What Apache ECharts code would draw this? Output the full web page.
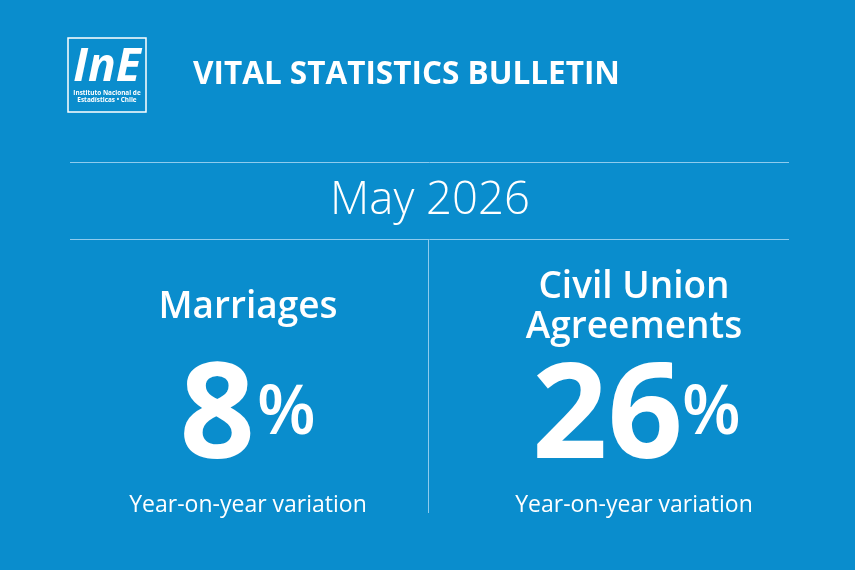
<!DOCTYPE html>
<html>
<head>
<meta charset="utf-8">
<script src="https://cdn.jsdelivr.net/npm/echarts@6/dist/echarts.min.js"></script>
<style>
html,body{margin:0;padding:0;background:#0a8dcd;}
#c{width:855px;height:570px;}
</style>
</head>
<body>
<div id="c"></div>
<script>
const title = 'VITAL STATISTICS BULLETIN';
const period = 'May 2026';
const categories = ['Marriages', 'Civil Union\nAgreements'];
const values = [8, 26];
const unit = '%';
const subtitle = 'Year-on-year variation';
const logoLines = ['Instituto Nacional de', 'Estadísticas • Chile'];

const chart = echarts.init(document.getElementById('c'));
const F = '"Open Sans", sans-serif';
const W = '#ffffff';
const BG = '#0a8dcd';
const lineColor = '#8ecbee';

const colX = [248, 634];
const numRight = [255, 683];
const unitGap = [2, -1];

const elements = [];
elements.push({type:'rect', shape:{x:0,y:0,width:855,height:570}, style:{fill:BG}, silent:true, z:0});
// logo
elements.push({type:'rect', shape:{x:68,y:38,width:78,height:74}, style:{fill:'none', stroke:W, lineWidth:1.5}, z:1});
elements.push({type:'text', x:107, y:68, style:{text:'InE', fill:W, font:'italic 700 46px "Open Sans", sans-serif', textAlign:'center', textVerticalAlign:'middle'}, z:2});
elements.push({type:'text', x:107, y:93, style:{text:logoLines[0], fill:W, font:'700 6.4px "Open Sans", sans-serif', textAlign:'center', textVerticalAlign:'middle'}, z:2});
elements.push({type:'text', x:107, y:100, style:{text:logoLines[1], fill:W, font:'700 6.4px "Open Sans", sans-serif', textAlign:'center', textVerticalAlign:'middle'}, z:2});
// title
elements.push({type:'text', x:406.5, y:75, style:{text:title, fill:W, font:'700 31.5px '+F, textAlign:'center', textVerticalAlign:'middle'}, z:2});
// separators
elements.push({type:'line', shape:{x1:70,y1:162.5,x2:789,y2:162.5}, style:{stroke:lineColor, lineWidth:1}, z:1});
elements.push({type:'line', shape:{x1:70,y1:239.5,x2:789,y2:239.5}, style:{stroke:lineColor, lineWidth:1}, z:1});
elements.push({type:'line', shape:{x1:428.5,y1:240,x2:428.5,y2:513}, style:{stroke:lineColor, lineWidth:1}, z:1});
// period
elements.push({type:'text', x:430, y:201, style:{text:period, fill:W, font:'300 45.5px '+F, textAlign:'center', textVerticalAlign:'middle'}, z:2});

categories.forEach((cat, i) => {
  const lines = cat.split('\n');
  const cy = lines.length === 1 ? 307 : 287;
  lines.forEach((ln, j) => {
    elements.push({type:'text', x:colX[i], y:cy + j*40, style:{text:ln, fill:W, font:'600 37px '+F, textAlign:'center', textVerticalAlign:'middle'}, z:2});
  });
  elements.push({type:'text', x:numRight[i], y:420, style:{text:String(values[i]), fill:W, font:'700 132px '+F, textAlign:'right', textVerticalAlign:'middle'}, z:2});
  elements.push({type:'text', x:numRight[i]+unitGap[i], y:415, style:{text:unit, fill:W, font:'600 68px '+F, textAlign:'left', textVerticalAlign:'middle'}, z:2});
  elements.push({type:'text', x:colX[i], y:505, style:{text:subtitle, fill:W, font:'400 23px '+F, textAlign:'center', textVerticalAlign:'middle'}, z:2});
});

chart.setOption({
  backgroundColor:BG,
  animation:false,
  graphic:{elements}
});
</script>
</body>
</html>
